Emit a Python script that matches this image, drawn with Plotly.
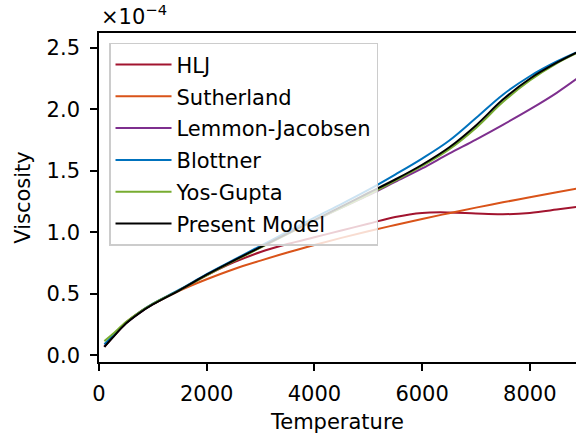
import plotly.graph_objects as go

# Temperature grid (K)
temperature = [100, 250, 500, 750, 1000, 1500, 2000, 2500, 3000, 3500, 4000,
               4500, 5000, 5500, 6000, 6500, 7000, 7500, 8000, 8500, 9000]

# Viscosity values in units of 1e-4
hlj = [0.07, 0.145, 0.26, 0.345, 0.415, 0.53, 0.65, 0.755, 0.84, 0.905, 0.96,
       1.015, 1.07, 1.125, 1.158, 1.162, 1.153, 1.147, 1.158, 1.185, 1.215]
sutherland = [0.069, 0.145, 0.267, 0.35, 0.415, 0.526, 0.618, 0.70, 0.77, 0.836, 0.897,
              0.955, 1.009, 1.06, 1.109, 1.156, 1.201, 1.244, 1.286, 1.327, 1.366]
lemmon = [0.07, 0.145, 0.26, 0.345, 0.415, 0.53, 0.655, 0.77, 0.88, 0.99, 1.095,
          1.20, 1.30, 1.41, 1.52, 1.64, 1.755, 1.875, 2.0, 2.135, 2.29]
blottner = [0.09, 0.155, 0.265, 0.35, 0.42, 0.535, 0.66, 0.775, 0.89, 1.005, 1.12,
            1.23, 1.345, 1.47, 1.60, 1.745, 1.93, 2.12, 2.27, 2.39, 2.49]
yos_gupta = [0.115, 0.17, 0.27, 0.35, 0.418, 0.53, 0.65, 0.765, 0.875, 0.985, 1.095,
             1.20, 1.305, 1.42, 1.54, 1.675, 1.85, 2.06, 2.235, 2.375, 2.485]
present = [0.068, 0.142, 0.258, 0.343, 0.413, 0.53, 0.655, 0.77, 0.88, 0.99, 1.10,
           1.21, 1.32, 1.43, 1.55, 1.69, 1.87, 2.08, 2.25, 2.38, 2.49]

series_names = ["HLJ", "Sutherland", "Lemmon-Jacobsen", "Blottner", "Yos-Gupta", "Present Model"]
series_values = [hlj, sutherland, lemmon, blottner, yos_gupta, present]
series_colors = ["#A2142F", "#D95319", "#7E2F8E", "#0072BD", "#77AC30", "#000000"]

x_ticks = [0, 2000, 4000, 6000, 8000]
y_ticks = [0.0, 0.5, 1.0, 1.5, 2.0, 2.5]

FONT = "DejaVu Sans"
FS = 21

fig = go.Figure()
for i, (name, vals, col) in enumerate(zip(series_names, series_values, series_colors)):
    fig.add_trace(go.Scatter(
        x=temperature, y=vals, name=name, mode="lines",
        line=dict(color=col, width=2, shape="spline", smoothing=1.0),
        legendgroup=f"g{i}",
    ))

fig.update_layout(
    width=576, height=438,
    margin=dict(l=99, r=0, t=33, b=76),
    paper_bgcolor="white", plot_bgcolor="white",
    font=dict(family=FONT, size=FS, color="black"),
    showlegend=True,
    legend=dict(
        x=0.021, y=0.97, xanchor="left", yanchor="top",
        bgcolor="rgba(255,255,255,0.8)", bordercolor="#cccccc", borderwidth=1.5,
        font=dict(family=FONT, size=FS, color="black"),
        traceorder="grouped", tracegroupgap=1.5, itemwidth=56,
    ),
    xaxis=dict(
        range=[0, 8858], tickvals=x_ticks, ticks="outside", ticklen=7, tickwidth=1.6,
        tickcolor="black", showline=True, linewidth=1.6, linecolor="black", mirror=True,
        showgrid=False, zeroline=False, ticklabelstandoff=5,
        tickfont=dict(family=FONT, size=FS),
        title=dict(text="Temperature", font=dict(family=FONT, size=FS), standoff=9),
    ),
    yaxis=dict(
        range=[-0.055, 2.622], tickvals=y_ticks, tickformat=".1f", ticks="outside",
        ticklen=7, tickwidth=1.6, tickcolor="black", showline=True, linewidth=1.6,
        linecolor="black", showgrid=False, zeroline=False, ticklabelstandoff=6,
        tickfont=dict(family=FONT, size=FS),
        title=dict(text="Viscosity", font=dict(family=FONT, size=FS), standoff=10),
    ),
    annotations=[dict(
        text="×10<sup>−4</sup>", xref="paper", yref="paper", x=0, y=1,
        xanchor="left", yanchor="bottom", showarrow=False, yshift=2,
        font=dict(family=FONT, size=FS, color="black"),
    )],
)

fig.write_html("out.html")
